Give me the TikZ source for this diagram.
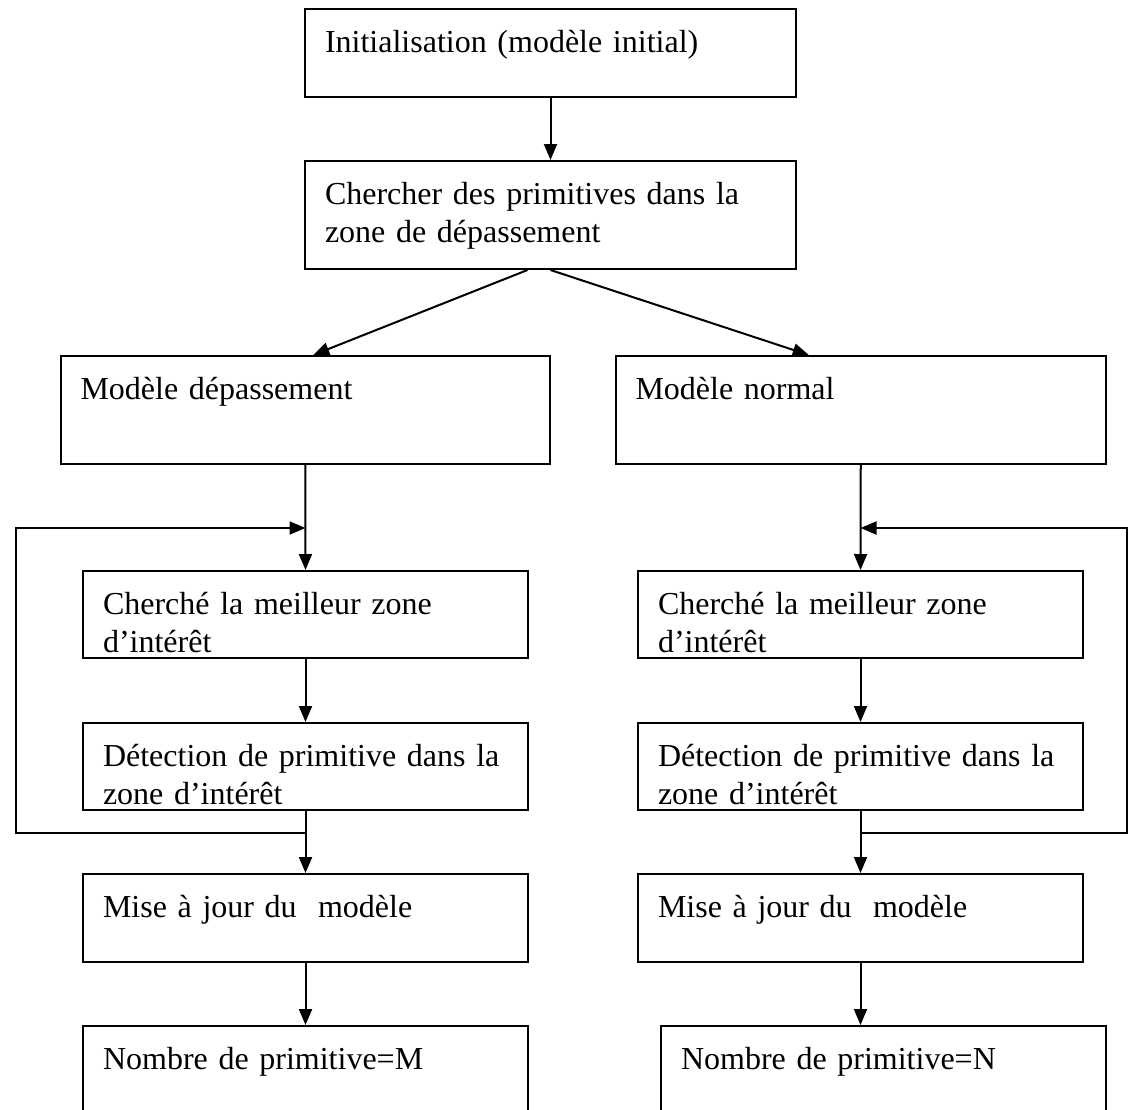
\documentclass[tikz,border=0pt]{standalone}
\usepackage{fontspec}
\setmainfont{Liberation Serif}
\usetikzlibrary{arrows.meta}
\usetikzlibrary{calc}
\usetikzlibrary{positioning}

\begin{document}
\begin{tikzpicture}[
    x=0.5pt, y=-0.5pt,
    font=\fontsize{16}{19}\selectfont
]
\tikzset{
    etape/.style 2 args = {draw=black, line width=1pt, anchor=north west, align=left,
        inner xsep=10pt, inner ysep=9.5pt, text height=12pt,
        text width=#1, text depth=#2},
    fleche/.style = {-{Triangle[length=8pt,width=6.5pt]}, line width=1pt}
}
\useasboundingbox (0,0) rectangle (1130,1109);
% haut
\node[etape={225.5pt}{13pt}] at (304,8)   (init)   {Initialisation (modèle initial)};
\node[etape={225.5pt}{23pt}] at (304,160) (cherch) {Chercher des primitives dans la\\zone de dépassement};
\node[etape={224.75pt}{23pt}] at (59.5,355)  (mdep)  {Modèle dépassement};
\node[etape={225.25pt}{23pt}] at (614.5,355) (mnorm) {Modèle normal};
% colonne gauche
\node[etape={202.5pt}{12.5pt}] at (82,570)  (czL)  {Cherché la meilleur zone\\d’intérêt};
\node[etape={202.5pt}{12.5pt}] at (82,722)  (detL) {Détection de primitive dans la\\zone d’intérêt};
\node[etape={202.5pt}{13pt}]   at (82,873)  (majL) {Mise à jour du\ \ modèle};
\node[etape={202.5pt}{30pt}]   at (82,1025) (nbL)  {Nombre de primitive=M};
% colonne droite
\node[etape={202.5pt}{12.5pt}] at (637,570)  (czR)  {Cherché la meilleur zone\\d’intérêt};
\node[etape={202.5pt}{12.5pt}] at (637,722)  (detR) {Détection de primitive dans la\\zone d’intérêt};
\node[etape={202.5pt}{13pt}]   at (637,873)  (majR) {Mise à jour du\ \ modèle};
\node[etape={202.5pt}{30pt}]   at (660,1025) (nbR)  {Nombre de primitive=N};
% connexions
\draw[fleche] (init) -- (cherch);
\draw[fleche] ($(cherch.south)+(-23,0)$) -- ($(mdep.north)+(8,0)$);
\draw[fleche] (cherch.south) -- ($(mnorm.north)+(-52,0)$);
\draw[fleche] (mdep.south) -- (czL.north);
\draw[fleche] (czL) -- (detL);
\draw[fleche] (detL) -- (majL);
\draw[fleche] (majL) -- (nbL);
\draw[fleche] (mnorm.south) -- (czR.north);
\draw[fleche] (czR) -- (detR);
\draw[fleche] (detR) -- (majR);
\draw[fleche] (majR.south) -- (majR.south |- nbR.north);
% boucles
\coordinate (retourL) at ($(detL.south)+(0,22)$);
\coordinate (entreeL) at ($(czL.north)+(0,-42)$);
\coordinate (retourR) at ($(detR.south)+(0,22)$);
\coordinate (entreeR) at ($(czR.north)+(0,-42)$);
\draw[fleche] (retourL) -- ++(-290,0) |- (entreeL);
\draw[fleche] (retourR) -- ++(266,0) |- (entreeR);
\end{tikzpicture}
\end{document}
